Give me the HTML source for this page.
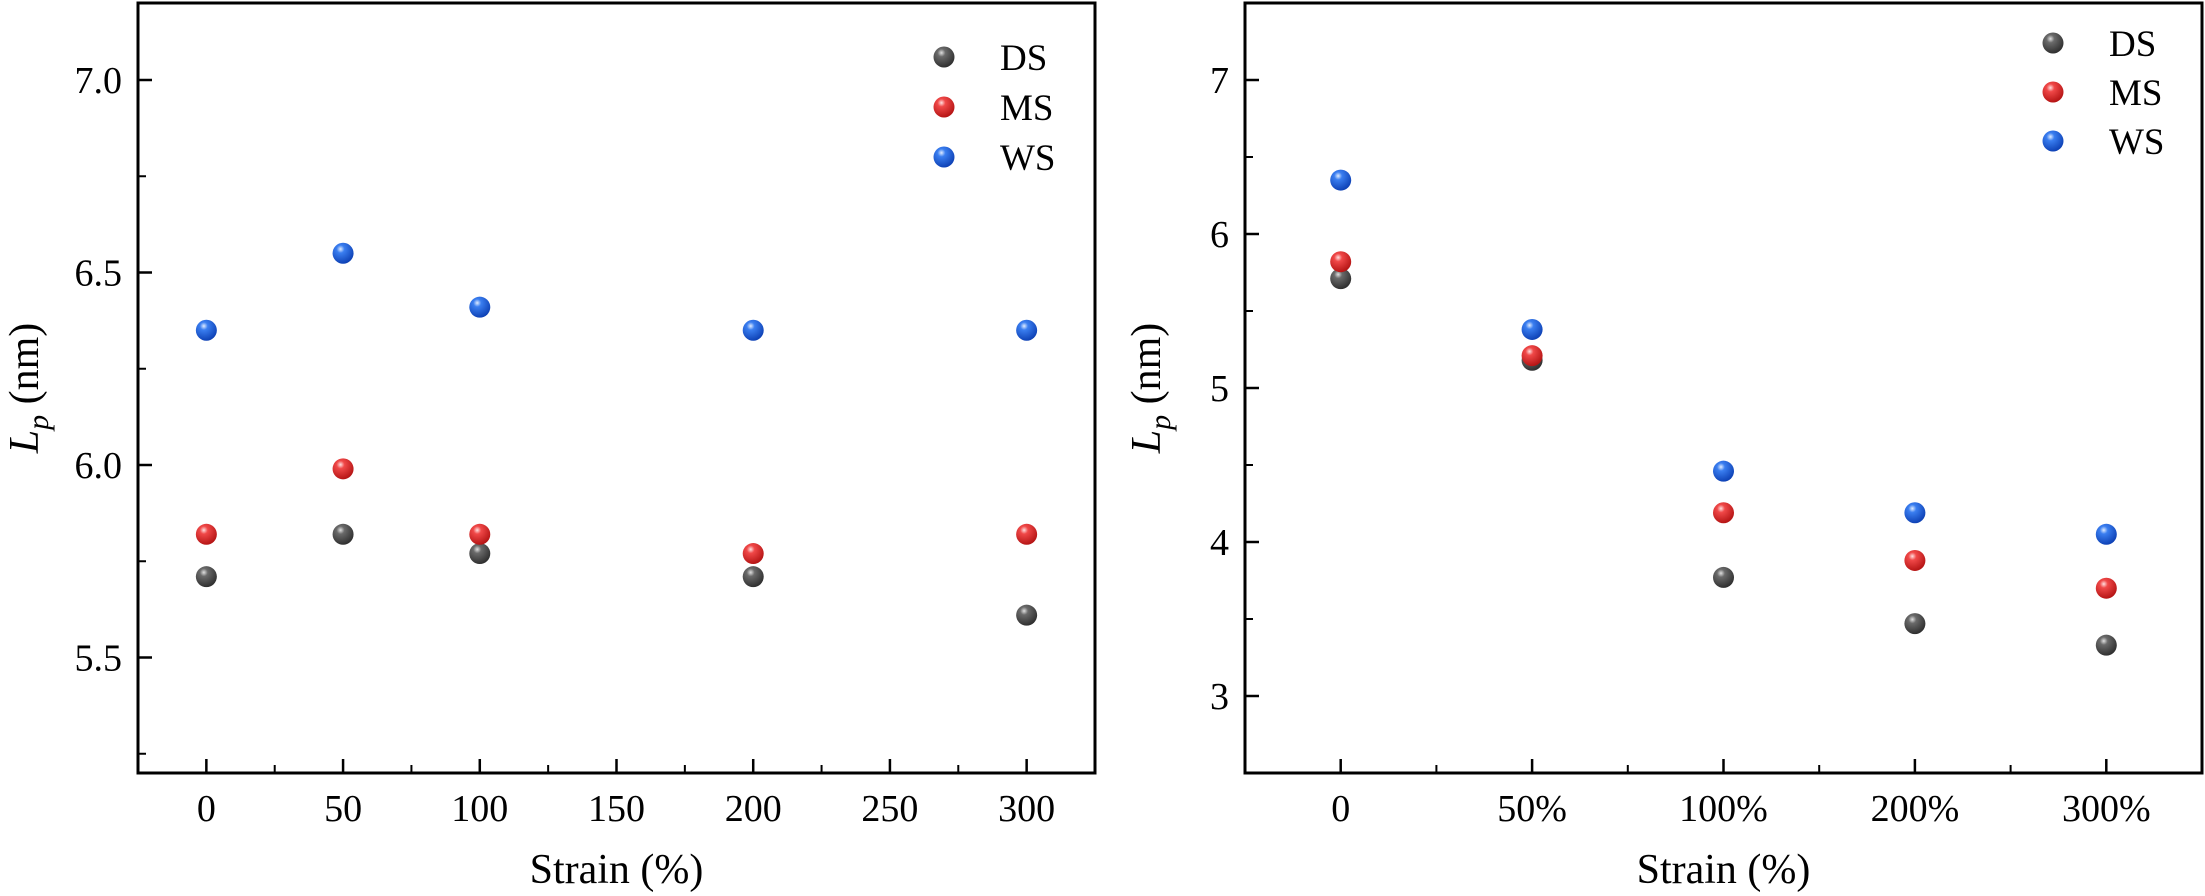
<!DOCTYPE html>
<html><head><meta charset="utf-8"><style>
html,body{margin:0;padding:0;background:#fff}
svg{display:block;font-family:"Liberation Serif",serif}
</style></head><body>
<svg id="chart" width="2205" height="896" viewBox="0 0 2205 896" xmlns="http://www.w3.org/2000/svg">
<defs>
<radialGradient id="gDS" cx="0.38" cy="0.3" r="0.75"><stop offset="0" stop-color="#e0e0e0"/><stop offset="0.25" stop-color="#6a6a6a"/><stop offset="1" stop-color="#2a2a2a"/></radialGradient>
<radialGradient id="gMS" cx="0.38" cy="0.3" r="0.75"><stop offset="0" stop-color="#ffe0e0"/><stop offset="0.25" stop-color="#f04848"/><stop offset="1" stop-color="#b01010"/></radialGradient>
<radialGradient id="gWS" cx="0.38" cy="0.3" r="0.75"><stop offset="0" stop-color="#e0ecff"/><stop offset="0.25" stop-color="#3a7ef0"/><stop offset="1" stop-color="#0a3cb0"/></radialGradient>
</defs>
<g id="left"></g>
<g id="right"></g>
</svg>
<script>
const seriesNames = ["DS","MS","WS"];
const leftX = [0,50,100,200,300];
const leftDS = [5.71,5.82,5.77,5.71,5.61];
const leftMS = [5.82,5.99,5.82,5.77,5.82];
const leftWS = [6.35,6.55,6.41,6.35,6.35];
const leftYTicks = [5.5,6.0,6.5,7.0];
const leftXTicks = [0,50,100,150,200,250,300];
const rightCats = ["0","50%","100%","200%","300%"];
const rightDS = [5.71,5.18,3.77,3.47,3.33];
const rightMS = [5.82,5.21,4.19,3.88,3.70];
const rightWS = [6.35,5.38,4.46,4.19,4.05];
const rightYTicks = [3,4,5,6,7];

const NS="http://www.w3.org/2000/svg";
function el(p,tag,attrs){const e=document.createElementNS(NS,tag);for(const k in attrs)e.setAttribute(k,attrs[k]);p.appendChild(e);return e;}

function panel(g,cfg){
  const {L,R,T,B,xmin,xmax,ymin,ymax}=cfg;
  const sx=v=>L+(v-xmin)/(xmax-xmin)*(R-L);
  const sy=v=>B-(v-ymin)/(ymax-ymin)*(B-T);
  const frame=el(g,'rect',{x:L,y:T,width:R-L,height:B-T,fill:'none',stroke:'#000','stroke-width':3});
  
  
  cfg.yTicks.forEach((v,i)=>{
    const y=sy(v);
    const t=el(g,'line',{x1:L,x2:L+14,y1:y,y2:y,stroke:'#000','stroke-width':2.5});
    
    
    const lb=el(g,'text',{x:L-16,y:y+13,'text-anchor':'end','font-size':38});
    lb.textContent=cfg.yFmt(v);
    
    
    const m=v+cfg.yStep/2;
    if(m<ymax){const ym=sy(m);const mt=el(g,'line',{x1:L,x2:L+8,y1:ym,y2:ym,stroke:'#000','stroke-width':2});
      
      }
    if(i===0){const m2=v-cfg.yStep/2; if(m2>ymin){const ym=sy(m2);const mt=el(g,'line',{x1:L,x2:L+8,y1:ym,y2:ym,stroke:'#000','stroke-width':2});
      
      }}
  });
  cfg.xTicks.forEach((v,i)=>{
    const x=sx(v);
    const t=el(g,'line',{x1:x,x2:x,y1:B,y2:B-14,stroke:'#000','stroke-width':2.5});
    
    
    const lb=el(g,'text',{x:x,y:B+48,'text-anchor':'middle','font-size':38});
    lb.textContent=cfg.xLabel(v,i);
    
    
    if(i<cfg.xTicks.length-1){const xm=sx(v+cfg.xStep/2);const mt=el(g,'line',{x1:xm,x2:xm,y1:B,y2:B-8,stroke:'#000','stroke-width':2});
      
      }
  });
  const xt=el(g,'text',{x:(L+R)/2,y:B+110,'text-anchor':'middle','font-size':42});
  xt.textContent='Strain (%)';
  
  
  const yt=el(g,'text',{transform:`translate(${cfg.yTitleX},${(T+B)/2}) rotate(-90)`,'text-anchor':'middle','font-size':42});
  yt.innerHTML='<tspan font-style="italic">L</tspan><tspan font-style="italic" font-size="30" dy="10">p</tspan><tspan dy="-10"> (nm)</tspan>';
  
  
  const data=[cfg.ds,cfg.ms,cfg.ws];
  data.forEach((arr,si)=>{
    arr.forEach((v,i)=>{
      const c=el(g,'circle',{cx:sx(cfg.xs[i]),cy:sy(v),r:10.5,fill:`url(#g${seriesNames[si]})`});
      
      
    });
  });
  seriesNames.forEach((n,i)=>{
    const y=cfg.legY+i*cfg.legGap;
    const c=el(g,'circle',{cx:cfg.legX,cy:y,r:10.5,fill:`url(#g${n})`});
    
    
    const t=el(g,'text',{x:cfg.legX+56,y:y+13,'font-size':37});
    t.textContent=n;
    
    
  });
}

panel(document.getElementById('left'),{L:138,R:1095,T:3,B:773,xmin:-25,xmax:325,ymin:5.2,ymax:7.2,
  yTicks:leftYTicks,yStep:0.5,yFmt:v=>v.toFixed(1),xTicks:leftXTicks,xStep:50,xLabel:v=>String(v),
  xs:leftX,ds:leftDS,ms:leftMS,ws:leftWS,legX:944,legY:57,legGap:50,yTitleX:38});
panel(document.getElementById('right'),{L:1245,R:2202,T:3,B:773,xmin:-0.5,xmax:4.5,ymin:2.5,ymax:7.5,
  yTicks:rightYTicks,yStep:1,yFmt:v=>String(v),xTicks:[0,1,2,3,4],xStep:1,xLabel:(v,i)=>rightCats[i],
  xs:[0,1,2,3,4],ds:rightDS,ms:rightMS,ws:rightWS,legX:2053,legY:43,legGap:49,yTitleX:1160});
</script>
</body></html>
